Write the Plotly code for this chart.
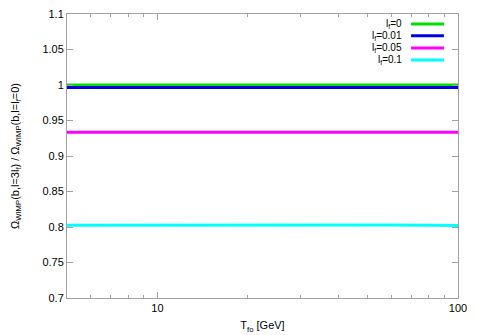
import plotly.graph_objects as go

# Data
T_fo = [5, 6, 7, 8, 10, 12, 15, 17, 18, 20, 25, 30, 40, 50, 60, 70, 80, 90, 100]
r_lf0 = [1.0001] * 19
r_lf001 = [0.9965, 0.9965, 0.9965, 0.9965, 0.9965, 0.9965, 0.9965, 0.9968, 0.9970, 0.9965,
           0.9965, 0.9965, 0.9965, 0.9965, 0.9965, 0.9965, 0.9965, 0.9965, 0.9965]
r_lf005 = [0.9336, 0.9336, 0.9337, 0.9336, 0.9336, 0.9337, 0.9336, 0.9336, 0.9336, 0.9337,
           0.9336, 0.9336, 0.9336, 0.9336, 0.9335, 0.9336, 0.9336, 0.9336, 0.9335]
r_lf01 = [0.8024, 0.8025, 0.8024, 0.8023, 0.8023, 0.8023, 0.8023, 0.8023, 0.8023, 0.8024,
          0.8027, 0.8028, 0.8028, 0.8028, 0.8028, 0.8026, 0.8023, 0.8022, 0.8022]

series = [
    ("l<sub>f</sub>=0", r_lf0, "#00e000"),
    ("l<sub>f</sub>=0.01", r_lf001, "#0000e0"),
    ("l<sub>f</sub>=0.05", r_lf005, "#ff00ff"),
    ("l<sub>f</sub>=0.1", r_lf01, "#00ffff"),
]

y_ticks = [0.7, 0.75, 0.8, 0.85, 0.9, 0.95, 1.0, 1.05, 1.1]
y_ticklabels = ["0.7", "0.75", "0.8", "0.85", "0.9", "0.95", "1", "1.05", "1.1"]
x_ticks = [10, 100]
x_minor = [6, 7, 8, 9, 20, 30, 40, 50, 60, 70, 80, 90]

fig = go.Figure()
for name, vals, col in series:
    fig.add_trace(go.Scatter(x=T_fo, y=vals, mode="lines", name=name,
                             line=dict(color=col, width=3), showlegend=False))

# Manual gnuplot-style legend: right-aligned text, sample line to the right
leg_y = [0.965, 0.923, 0.880, 0.838]
for (name, vals, col), yy in zip(series, leg_y):
    fig.add_annotation(x=0.862, y=yy, xref="paper", yref="paper", text=name,
                       showarrow=False, xanchor="right", yanchor="middle",
                       font=dict(size=10, color="#000000"))
    fig.add_shape(type="line", xref="paper", yref="paper", x0=0.880, x1=0.964,
                  y0=yy, y1=yy, line=dict(color=col, width=3))

axis_font = dict(family="Liberation Sans, Arial, sans-serif", size=11, color="#000000")

fig.update_layout(
    width=479, height=335,
    margin=dict(l=67, r=21, t=14, b=37),
    paper_bgcolor="white", plot_bgcolor="white",
    font=axis_font,
    xaxis=dict(
        type="log", range=[0.69897, 2.0], automargin=False,
        tickvals=x_ticks, ticktext=["10", "100"],
        ticks="inside", ticklen=6, tickcolor="#a0a0a0",
        minor=dict(tickvals=x_minor, ticks="inside", ticklen=3, tickcolor="#a0a0a0"),
        showline=True, linecolor="#a0a0a0", linewidth=1, mirror="ticks",
        showgrid=False, zeroline=False,
        title=dict(text="T<sub>fo</sub> [GeV]", standoff=8, font=axis_font),
    ),
    yaxis=dict(
        range=[0.7, 1.1], automargin=False,
        tickvals=y_ticks, ticktext=y_ticklabels,
        ticks="inside", ticklen=6, tickcolor="#a0a0a0",
        showline=True, linecolor="#a0a0a0", linewidth=1, mirror="ticks",
        showgrid=False, zeroline=False,
        title=dict(text="Ω<sub>WIMP</sub>(b,l=3l<sub>f</sub>) / Ω<sub>WIMP</sub>(b,l=l<sub>f</sub>=0)",
                   standoff=20, font=axis_font),
    ),
)

fig.write_html("out.html", config={"displayModeBar": False},
               post_script="document.body.style.margin='0';document.body.style.overflow='hidden';")
